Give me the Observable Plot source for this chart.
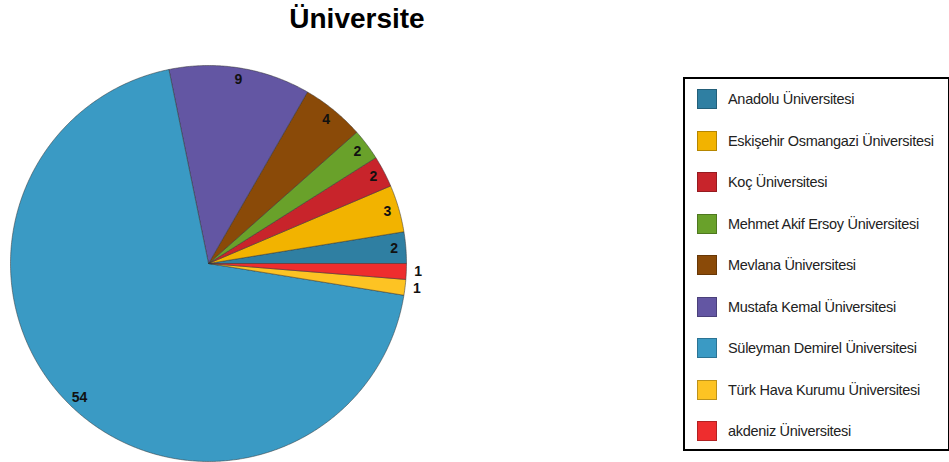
<!DOCTYPE html>
<html>
<head>
<meta charset="utf-8">
<script src="https://cdn.jsdelivr.net/npm/d3@7"></script>
<script src="https://cdn.jsdelivr.net/npm/@observablehq/plot@0.6"></script>
<style>
  html, body { margin: 0; padding: 0; background: #fff; }
  body { width: 949px; height: 462px; position: relative; overflow: hidden; font-family: "Liberation Sans", Arial, sans-serif; }
  #title { position: absolute; left: 0; width: 714px; top: 3px; text-align: center; font-size: 28px; font-weight: bold; color: #000; }
  #chart { position: absolute; left: 0; top: 0; }
  #legend { position: absolute; left: 683px; top: 77px; width: 263px; height: 370px; border: 2px solid #000; box-sizing: content-box; }
  .row { position: absolute; left: 12px; height: 20px; display: flex; align-items: center; white-space: nowrap; }
  .sw { width: 18px; height: 18px; border: 1px solid rgba(0,0,0,0.25); margin-right: 11px; }
  .lbl { font-size: 14.5px; color: #222; letter-spacing: -0.3px; }
</style>
</head>
<body>
<div id="title">Üniversite</div>
<div id="chart"></div>
<div id="legend"></div>
<script>
const categories = [
  "Anadolu Üniversitesi",
  "Eskişehir Osmangazi Üniversitesi",
  "Koç Üniversitesi",
  "Mehmet Akif Ersoy Üniversitesi",
  "Mevlana Üniversitesi",
  "Mustafa Kemal Üniversitesi",
  "Süleyman Demirel Üniversitesi",
  "Türk Hava Kurumu Üniversitesi",
  "akdeniz Üniversitesi"
];
const values = [2, 3, 2, 2, 4, 9, 54, 1, 1];
const colors = ["#2f7fa2", "#f2b300", "#c8242b", "#69a12a", "#8a4a08", "#6356a3", "#3a9ac4", "#fdc323", "#ee2d2e"];

const total = d3.sum(values);
const pts = [];
const labels = [];
let cum = 0;
categories.forEach((name, i) => {
  const a0 = cum / total * 2 * Math.PI;
  cum += values[i];
  const a1 = cum / total * 2 * Math.PI;
  const n = Math.max(4, Math.ceil((a1 - a0) / (Math.PI / 360)));
  pts.push({name, x: 0, y: 0});
  for (let k = 0; k <= n; k++) {
    const a = a0 + (a1 - a0) * k / n;
    pts.push({name, x: Math.cos(a), y: Math.sin(a)});
  }
  pts.push({name, x: 0, y: 0});
  const m = (a0 + a1) / 2;
  const r = values[i] === 1 ? 1.04 : 0.94;
  labels.push({name, v: String(values[i]), x: r * Math.cos(m), y: r * Math.sin(m), outside: values[i] === 1});
});

const plot = Plot.plot({
  width: 949,
  height: 462,
  margin: 0,
  x: {domain: [-1, 1], range: [10, 406], axis: null},
  y: {domain: [-1, 1], range: [461, 65], axis: null},
  color: {domain: categories, range: colors},
  style: {fontFamily: "Liberation Sans, Arial, sans-serif", background: "transparent"},
  marks: [
    Plot.line(pts, {x: "x", y: "y", z: "name", fill: "name", stroke: "#333", strokeWidth: 0.6, strokeOpacity: 0.85, curve: "linear"}),
    Plot.text(labels.filter(d => !d.outside), {x: "x", y: "y", text: "v", fontSize: 14, fontWeight: "bold", fill: "#111"}),
    Plot.text(labels.filter(d => d.outside), {x: "x", y: "y", text: "v", fontSize: 14, fontWeight: "bold", fill: "#111", textAnchor: "start"})
  ]
});
document.getElementById("chart").appendChild(plot);

const legend = d3.select("#legend");
categories.forEach((name, i) => {
  const row = legend.append("div").attr("class", "row").style("top", (10 + i * 41.5) + "px");
  row.append("div").attr("class", "sw").style("background", colors[i]);
  row.append("div").attr("class", "lbl").text(name);
});
</script>
</body>
</html>
